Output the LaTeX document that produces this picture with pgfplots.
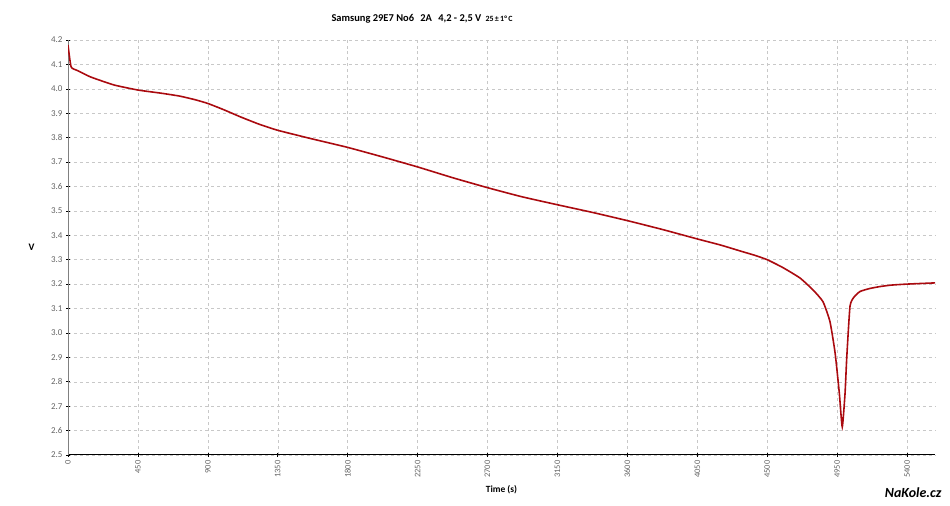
\documentclass[border=0pt]{standalone}
\usepackage{pgfplots}
\pgfplotsset{compat=1.18}
\usepackage{fontspec}
\setmainfont{Carlito}
\definecolor{curve}{RGB}{170,10,15}
\definecolor{tickgray}{RGB}{100,100,100}
\definecolor{gridgray}{RGB}{200,200,200}
\begin{document}
\begin{tikzpicture}[x=1bp,y=1bp]
\path[use as bounding box] (0,0) rectangle (950,506);
\begin{axis}[
  at={(68bp,51bp)}, anchor=south west,
  scale only axis, width=867bp, height=415bp,
  xmin=0, xmax=5580, ymin=2.5, ymax=4.2,
  xtick={0,450,...,5400},
  ytick={2.5,2.6,...,4.21},
  yticklabel style={/pgf/number format/fixed, /pgf/number format/fixed zerofill, /pgf/number format/precision=1},
  xticklabel style={/pgf/number format/1000 sep={}},
  /pgf/number format/assume math mode=true,
  xticklabel style={rotate=90, anchor=east, font=\fontsize{8.5}{9}\selectfont, text=tickgray},
  yticklabel style={font=\fontsize{9}{10}\selectfont, text=tickgray},
  scaled x ticks=false,
  axis x line*=bottom, axis y line*=left,
  x axis line style={black, line width=1pt, -},
  y axis line style={gray, line width=0.6pt, -},
  tick style={black, line width=0.6pt},
  major tick length=4bp,
  xtick pos=bottom, ytick pos=left,
  tick align=center,
  grid=major,
  major grid style={gridgray, dashed, line width=0.5pt},
  xlabel={\textbf{Time (s)}}, xlabel style={font=\fontsize{9.5}{10}\selectfont, at={(0.5,-0.084)}, anchor=center},
  ylabel={\textbf{V}}, ylabel style={rotate=-90, font=\fontsize{10}{11}\selectfont, at={(-0.042,0.5)}, anchor=center},
]
\addplot[curve, line width=1.6pt, smooth, tension=0.3] coordinates {
(0,4.18) (20,4.09) (60,4.075) (140,4.05) (205,4.035) (300,4.015) (450,3.995)
(600,3.982) (720,3.97) (820,3.955) (900,3.94) (1000,3.915) (1110,3.885)
(1230,3.855) (1350,3.83) (1570,3.795) (1800,3.76) (2030,3.72) (2250,3.68)
(2480,3.635) (2700,3.595) (2920,3.558) (3150,3.525) (3380,3.493) (3600,3.46)
(3830,3.423) (4050,3.385) (4200,3.36) (4330,3.335) (4420,3.318) (4500,3.30)
(4600,3.268) (4711,3.225) (4795,3.176) (4859,3.128) (4904,3.046)
(4937,2.918) (4964,2.754) (4983,2.615) (5001,2.753) (5012,2.90)
(5033,3.11) (5060,3.148) (5098,3.17) (5160,3.182) (5226,3.19) (5300,3.196)
(5398,3.20) (5580,3.205)
};
\end{axis}
\node[font=\bfseries\fontsize{10.5}{12}\selectfont, anchor=base west] at (328,484) {Samsung 29E7 No6\hspace{0.6em}2A\hspace{0.6em}4,2 - 2,5 V\hspace{0.4em}{\fontsize{8}{9}\selectfont 25\,±\,1°\,C}};
\node[font=\bfseries\itshape\fontsize{14}{15}\selectfont, anchor=east, text=black] at (945,13) {NaKole.cz};
\end{tikzpicture}
\end{document}
